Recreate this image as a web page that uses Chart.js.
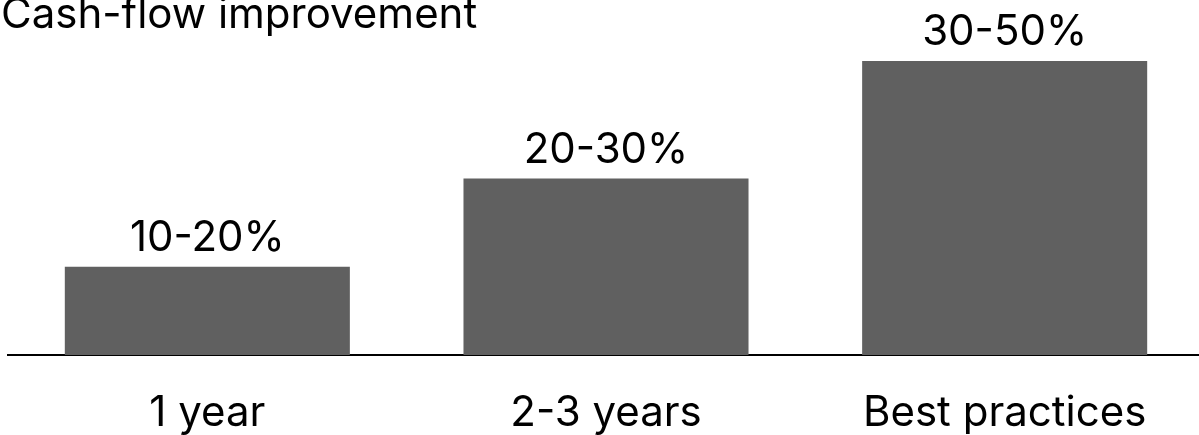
<!DOCTYPE html>
<html>
<head>
<meta charset="utf-8">
<script src="https://cdn.jsdelivr.net/npm/chart.js@4"></script>
<style>
  html, body { margin: 0; padding: 0; background: #fff; overflow: hidden; }
  #wrap { position: relative; width: 1204px; height: 435px; }
</style>
</head>
<body>
<div id="wrap"><canvas id="cashChart"></canvas></div>
<script>
const chartTitle = 'Cash-flow improvement';
const categories = ['1 year', '2-3 years', 'Best practices'];
const barValues = [15, 30, 50];
const valueLabels = ['10-20%', '20-30%', '30-50%'];

Chart.defaults.font.family = 'Inter, "Noto Sans", sans-serif';
Chart.defaults.color = '#000';

// title + value labels drawn on the canvas
const textPlugin = {
  id: 'textPlugin',
  afterDatasetsDraw(chart) {
    const ctx = chart.ctx;
    ctx.save();
    ctx.fillStyle = '#000';
    ctx.font = '42px Inter, "Noto Sans", sans-serif';
    ctx.textBaseline = 'alphabetic';

    ctx.textAlign = 'left';
    ctx.fillText(chartTitle, 1, 28);

    ctx.textAlign = 'center';
    chart.getDatasetMeta(0).data.forEach((bar, i) => {
      ctx.fillText(valueLabels[i], bar.x, bar.y - 16);
    });
    ctx.restore();
  }
};

const ctx = document.getElementById('cashChart').getContext('2d');
const cashChart = new Chart(ctx, {
  type: 'bar',
  data: {
    labels: categories,
    datasets: [{
      data: barValues,
      backgroundColor: '#606060',
      borderWidth: 0,
      barPercentage: 0.715,
      categoryPercentage: 1
    }]
  },
  options: {
    responsive: true,
    maintainAspectRatio: false,
    animation: false,
    layout: { padding: { top: 61, left: 8, right: 0, bottom: 0 } },
    plugins: {
      legend: { display: false },
      tooltip: { enabled: false }
    },
    scales: {
      x: {
        grid: { display: false, drawTicks: false },
        border: { display: true, color: '#000', width: 2 },
        ticks: {
          font: { size: 42 },
          color: '#000',
          padding: 33,
          maxRotation: 0,
          autoSkip: false
        },
        afterFit(scale) { scale.height = 80; }
      },
      y: {
        display: false,
        min: 0,
        max: 50
      }
    }
  },
  plugins: [textPlugin]
});
</script>
</body>
</html>
